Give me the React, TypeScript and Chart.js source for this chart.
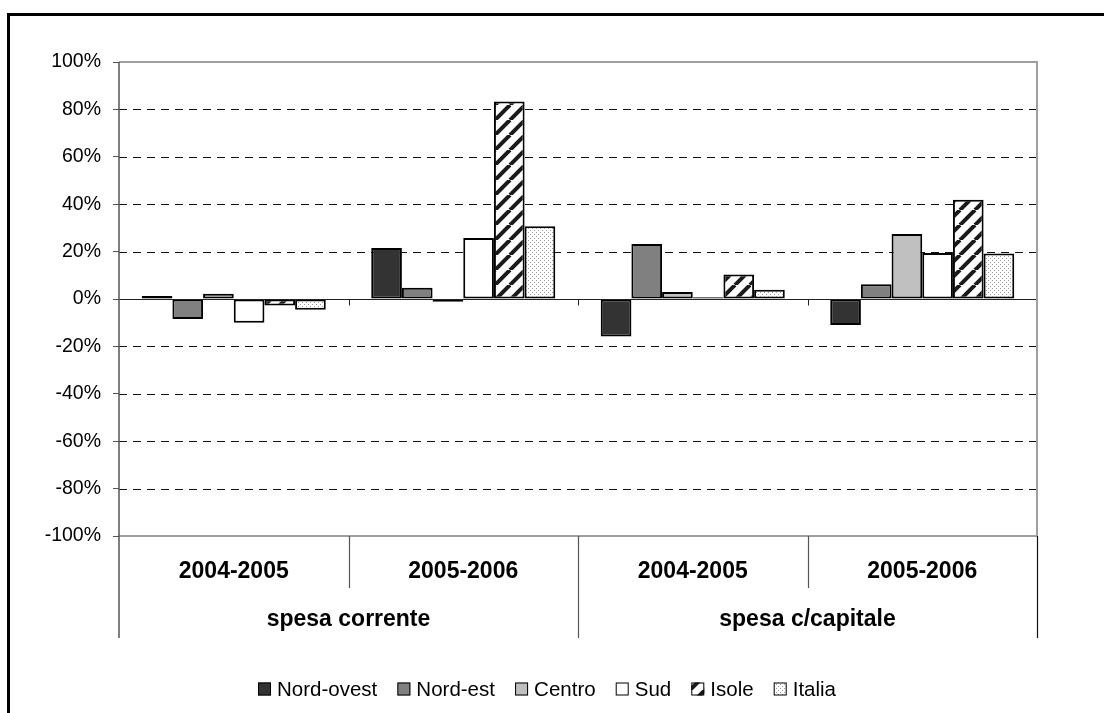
import React, { useEffect, useRef } from "react";
import { Chart, registerables } from "chart.js";

Chart.register(...registerables);

const periods = ["2004-2005", "2005-2006", "2004-2005", "2005-2006"];
const groups = ["spesa corrente", "spesa c/capitale"];
const yTicks = [-100, -80, -60, -40, -20, 0, 20, 40, 60, 80, 100];

const seriesNames = ["Nord-ovest", "Nord-est", "Centro", "Sud", "Isole", "Italia"];
const nordOvest = [1.3, 21.5, -15.8, -11];
const nordEst = [-8.4, 4.7, 23.2, 6.2];
const centro = [2.2, -1.2, 3, 27.4];
const sud = [-10, 25.7, 0.7, 19.4];
const isole = [-2.7, 83.3, 10.3, 41.9];
const italia = [-4.5, 30.7, 3.9, 19.2];

const FONT = "'Liberation Sans', Arial, sans-serif";

function makeHatch(): CanvasPattern | string {
  const s = 15;
  const c = document.createElement("canvas");
  c.width = s;
  c.height = s;
  const g = c.getContext("2d");
  if (!g) return "#888";
  g.fillStyle = "#fff";
  g.fillRect(0, 0, s, s);
  g.strokeStyle = "#1a1a1a";
  g.lineWidth = 4;
  for (const k of [-1, 0, 1]) {
    g.beginPath();
    g.moveTo(k * s, s);
    g.lineTo(k * s + s, 0);
    g.stroke();
  }
  return g.createPattern(c, "repeat") || "#888";
}

function makeDots(): CanvasPattern | string {
  const s = 4;
  const c = document.createElement("canvas");
  c.width = s;
  c.height = s;
  const g = c.getContext("2d");
  if (!g) return "#ddd";
  g.fillStyle = "#fff";
  g.fillRect(0, 0, s, s);
  g.fillStyle = "#9a9a9a";
  g.fillRect(0, 0, 1, 1);
  g.fillRect(2, 2, 1, 1);
  return g.createPattern(c, "repeat") || "#ddd";
}

export default function App() {
  const ref = useRef<HTMLCanvasElement | null>(null);

  useEffect(() => {
    if (!ref.current) return;
    const hatch = makeHatch();
    const dots = makeDots();
    const fills: (string | CanvasPattern)[] = ["#333333", "#808080", "#c0c0c0", "#ffffff", hatch, dots];
    const values = [nordOvest, nordEst, centro, sud, isole, italia];

    const decor = {
      id: "decor",
      beforeDatasetsDraw(chart: any) {
        const ctx = chart.ctx;
        const y = chart.scales.y;
        const a = chart.chartArea;
        ctx.save();
        ctx.strokeStyle = "#111";
        ctx.lineWidth = 1;
        ctx.setLineDash([8, 6]);
        for (const t of yTicks) {
          if (t === 100 || t === -100) continue;
          const py = Math.round(y.getPixelForValue(t)) + 0.5;
          ctx.beginPath();
          ctx.moveTo(a.left, py);
          ctx.lineTo(a.right, py);
          ctx.stroke();
        }
        ctx.restore();
      },
      afterDatasetsDraw(chart: any) {
        const ctx = chart.ctx;
        const y = chart.scales.y;
        const x = chart.scales.x;
        const a = chart.chartArea;
        ctx.save();
        const y0 = Math.round(y.getPixelForValue(0)) + 0.5;
        ctx.strokeStyle = "#222";
        ctx.lineWidth = 1;
        ctx.beginPath();
        ctx.moveTo(a.left, y0);
        ctx.lineTo(a.right, y0);
        ctx.stroke();
        const bw = (a.right - a.left) / periods.length;
        for (let i = 1; i <= periods.length; i++) {
          const px = Math.round(a.left + bw * i) + 0.5;
          ctx.beginPath();
          ctx.moveTo(px, y0);
          ctx.lineTo(px, y0 + 6);
          ctx.stroke();
        }
        ctx.strokeStyle = "#a0a0a0";
        ctx.lineWidth = 2;
        ctx.beginPath();
        ctx.moveTo(a.left, a.top);
        ctx.lineTo(a.right, a.top);
        ctx.lineTo(a.right, a.bottom);
        ctx.lineTo(a.left, a.bottom);
        ctx.stroke();
        ctx.strokeStyle = "#555";
        ctx.lineWidth = 1.5;
        ctx.beginPath();
        ctx.moveTo(a.left, a.top);
        ctx.lineTo(a.left, 638);
        ctx.stroke();
        ctx.lineWidth = 1.2;
        for (let i = 1; i <= periods.length; i++) {
          const px = Math.round(a.left + bw * i) + 0.5;
          const long = i % 2 === 0;
          ctx.strokeStyle = i === periods.length ? "#111" : "#555";
          ctx.beginPath();
          ctx.moveTo(px, a.bottom);
          ctx.lineTo(px, long ? 638 : 588);
          ctx.stroke();
        }
        ctx.fillStyle = "#000";
        ctx.textAlign = "center";
        ctx.textBaseline = "middle";
        ctx.font = `bold 23px ${FONT}`;
        periods.forEach((p, i) => {
          ctx.fillText(p, x.getPixelForValue(i), 572);
        });
        groups.forEach((g, i) => {
          const cx = a.left + bw * (2 * i + 1);
          ctx.fillText(g, cx, 620);
        });
        ctx.font = `20.5px ${FONT}`;
        ctx.textAlign = "left";
        const box = 13;
        const gapBT = 6;
        const widths = seriesNames.map((n) => ctx.measureText(n).width);
        const totalItems = widths.reduce((s, w) => s + w + box + gapBT, 0);
        const startX = 258;
        const endX = 836;
        const spacing = (endX - startX - totalItems) / (seriesNames.length - 1);
        let lx = startX;
        const ly = 689;
        seriesNames.forEach((n, i) => {
          ctx.fillStyle = fills[i];
          ctx.fillRect(lx, ly - box / 2, box, box);
          ctx.strokeStyle = "#000";
          ctx.lineWidth = 1;
          ctx.strokeRect(lx + 0.5, ly - box / 2 + 0.5, box - 1, box - 1);
          ctx.fillStyle = "#000";
          ctx.fillText(n, lx + box + gapBT, ly + 1);
          lx += box + gapBT + widths[i] + spacing;
        });
        ctx.fillStyle = "#000";
        ctx.fillRect(7, 13, 3, 713);
        ctx.fillRect(7, 13, 1104, 3);
        ctx.restore();
      },
    };

    const chart = new Chart(ref.current, {
      type: "bar",
      data: {
        labels: periods,
        datasets: seriesNames.map((n, i) => ({
          label: n,
          data: values[i],
          backgroundColor: fills[i] as any,
          borderColor: "#000",
          borderWidth: 2,
          borderSkipped: false,
          categoryPercentage: 0.802,
          barPercentage: 1,
        })),
      },
      options: {
        responsive: false,
        animation: false,
        devicePixelRatio: 1,
        layout: { padding: { left: 0, top: 62, right: 67, bottom: 177 } },
        plugins: { legend: { display: false }, tooltip: { enabled: false } },
        scales: {
          x: { display: false, offset: true },
          y: {
            min: -100,
            max: 100,
            afterFit: (s: any) => {
              s.width = 119;
            },
            afterBuildTicks: (s: any) => {
              s.ticks = yTicks.map((v) => ({ value: v }));
            },
            ticks: {
              padding: 12,
              color: "#000",
              font: { family: FONT, size: 19.5 },
              callback: (v: any) => `${v}%`,
            },
            grid: {
              drawOnChartArea: false,
              drawTicks: true,
              tickLength: 6,
              tickColor: "#555",
              tickWidth: 1,
            },
            border: { display: false },
          },
        },
      },
      plugins: [decor],
    });
    return () => chart.destroy();
  }, []);

  return (
    <canvas
      ref={ref}
      width={1104}
      height={713}
      style={{ position: "absolute", left: 0, top: 0, width: 1104, height: 713 }}
    />
  );
}
